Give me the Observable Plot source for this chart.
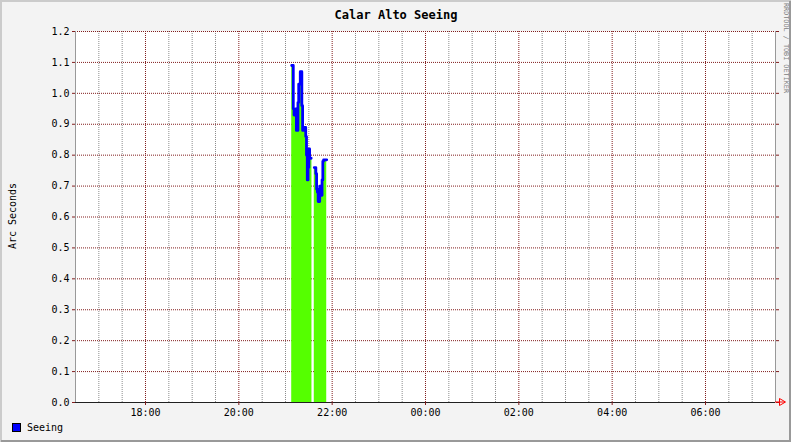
<!DOCTYPE html>
<html>
<head>
<meta charset="utf-8">
<script src="https://cdn.jsdelivr.net/npm/d3@7"></script>
<script src="https://cdn.jsdelivr.net/npm/@observablehq/plot@0.6"></script>
<style>
  html, body { margin: 0; padding: 0; background: #f3f3f3; }
  svg { display: block; }
</style>
</head>
<body>
<div id="chart"></div>
<script>
// ---- data ----
const title = "Calar Alto Seeing";
const yLabel = "Arc Seconds";
const seriesName = "Seeing";
const watermark = "RRDTOOL / TOBI OETIKER";
const times = ["21:08","21:10","21:11","21:13","21:14","21:16","21:17","21:19","21:21","21:22","21:24","21:26","21:27","21:28","21:29","21:30","21:31","21:33","21:34",
               "21:37","21:39","21:40","21:41","21:42","21:44","21:45","21:47","21:48","21:49","21:53"];
const seeing = [1.09,0.95,0.93,0.95,0.88,0.97,1.03,1.07,0.96,0.88,0.89,0.86,0.80,0.72,0.76,0.82,0.79,0.79,null,
                0.76,0.74,0.69,0.68,0.65,0.70,0.67,0.72,0.78,0.785,0.785];
const xStart = "16:30", xEnd = "07:30";
const xTickLabels = ["18:00","20:00","22:00","00:00","02:00","04:00","06:00"];
const yTickValues = [0,0.1,0.2,0.3,0.4,0.5,0.6,0.7,0.8,0.9,1.0,1.1,1.2];

// ---- helpers ----
function toDate(hm) {
  const [h, m] = hm.split(":").map(Number);
  return new Date(2024, 0, h < 12 ? 2 : 1, h, m);
}
const data = times.map((t, i) => ({time: toDate(t), value: seeing[i]}));
const x0 = toDate(xStart), x1 = toDate(xEnd);
const majorTicks = xTickLabels.map(toDate);
const majorSet = new Set(majorTicks.map(d => +d));
const minorTicks = d3.timeMinute.every(30).range(x0, x1).filter(d => +d !== +x0 && !majorSet.has(+d));

const MGRID = "#821e1e", GRID = "#8c8c8c";
const FONT = "'DejaVu Sans Mono', monospace";

const chart = Plot.plot({
  width: 791,
  height: 442,
  marginLeft: 75,
  marginRight: 16,
  marginTop: 31,
  marginBottom: 40,
  style: {background: "#f3f3f3", fontFamily: FONT, fontSize: "10px", color: "#000"},
  x: {type: "time", domain: [x0, x1]},
  y: {domain: [0, 1.2]},
  marks: [
    Plot.frame({fill: "#ffffff", stroke: null}),
    Plot.ruleX(minorTicks, {stroke: GRID, strokeDasharray: "1,1"}),
    Plot.ruleX(majorTicks, {stroke: MGRID, strokeDasharray: "1,1"}),
    Plot.ruleY(yTickValues, {stroke: MGRID, strokeDasharray: "1,1"}),
    Plot.areaY(data, {x: "time", y: "value", curve: "step-after", fill: "#55ff00"}),
    Plot.lineY(data, {x: "time", y: "value", curve: "step-after", stroke: "#0000ff", strokeWidth: 2.8}),
    Plot.ruleX([x0], {stroke: "#999999"}),
    Plot.ruleX([x1], {stroke: "#999999"}),
    Plot.ruleY([0], {stroke: "#202020"}),
    Plot.axisY({ticks: yTickValues, tickFormat: d3.format(".1f"), tickSize: 3, tickPadding: 3, stroke: MGRID, fill: "#000", label: null}),
    Plot.axisY({anchor: "right", ticks: yTickValues, tickFormat: () => "", tickSize: 3, stroke: MGRID, label: null}),
    Plot.axisX({ticks: majorTicks, tickFormat: d3.timeFormat("%H:%M"), tickSize: 3, tickPadding: 3, stroke: MGRID, fill: "#000", label: null})
  ]
});
document.getElementById("chart").appendChild(chart);

// ---- decorations: title, y label, legend, watermark, arrow, border ----
const svg = d3.select(chart);
svg.append("text").attr("x", 396).attr("y", 15)
  .attr("text-anchor", "middle").attr("dominant-baseline", "middle")
  .attr("font-family", FONT).attr("font-weight", "bold")
  .attr("font-size", 12).attr("fill", "#000").text(title);
svg.append("text").attr("transform", "translate(13,216) rotate(-90)")
  .attr("text-anchor", "middle").attr("dominant-baseline", "middle")
  .attr("font-family", FONT)
  .attr("font-size", 10).attr("fill", "#000").text(yLabel);
svg.append("text").attr("transform", "translate(786,48) rotate(90)")
  .attr("text-anchor", "middle").attr("dominant-baseline", "middle")
  .attr("font-family", FONT)
  .attr("font-size", 6.8).attr("fill", "#808080").text(watermark);
svg.append("rect").attr("x", 12.5).attr("y", 423.5).attr("width", 8).attr("height", 8)
  .attr("fill", "#0000ff").attr("stroke", "#000");
svg.append("text").attr("x", 27).attr("y", 428)
  .attr("text-anchor", "start").attr("dominant-baseline", "middle")
  .attr("font-family", FONT)
  .attr("font-size", 10).attr("fill", "#000").text(seriesName);
svg.append("line").attr("x1", 775).attr("x2", 785).attr("y1", 402).attr("y2", 402).attr("stroke", "#ff0000");
svg.append("path").attr("d", "M779.5,398.5 L785.5,402 L779.5,405.5 Z").attr("fill", "none").attr("stroke", "#ff0000");
svg.append("path").attr("d", "M1,442 L1,1 L791,1").attr("fill", "none").attr("stroke", "#cbcbcb").attr("stroke-width", 2);
svg.append("path").attr("d", "M1,441 L790,441 L790,1").attr("fill", "none").attr("stroke", "#999999").attr("stroke-width", 2);
</script>
</body>
</html>
